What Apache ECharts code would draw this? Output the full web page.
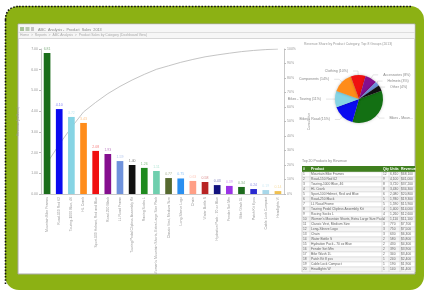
<!DOCTYPE html>
<html>
<head>
<meta charset="utf-8">
<script src="https://cdn.jsdelivr.net/npm/echarts@6.0.0/dist/echarts.min.js"></script>
<style>
html, body { margin: 0; padding: 0; background: #fff; }
#chart { width: 425px; height: 292px; }
</style>
</head>
<body>
<div id="chart"></div>
<script>
// bar / pareto data
var categories = [
    'Mountain Bike Frames', 'Road-150 Red 62', 'Touring-1000 Blue, 46', 'HL Crank',
    'Sport-100 Helmet, Red and Blue', 'Road-250 Black', 'LL Road Frame',
    'Touring Pedal Clipless Assembly Kit', 'Racing Socks L',
    "Women's Mountain Shorts, Extra Large Size Pack", 'Classic Vest, Medium Size',
    'Long-Sleeve Logo', 'Chain', 'Water Bottle S', 'Hydration Pack - 70 oz Blue',
    'Fender Set Mtn', 'Bike Wash 1L', 'Patch Kit 8 pcs', 'Cable Lock Compact', 'Headlights W'
]
var barValues = [6.81, 4.10, 3.72, 3.43, 2.08, 1.93, 1.59, 1.40, 1.26, 1.11,
    0.77, 0.75, 0.63, 0.58, 0.43, 0.39, 0.34, 0.24, 0.19, 0.14]
var barColors = ['#1b6e1b', '#0a0af0', '#86d4e4', '#ff8c1a', '#f01010', '#850f8f', '#6f92dc',
    '#111111', '#1e8a1e', '#6fcfae', '#56692f', '#2a8ff0', '#ff9f86', '#b82424',
    '#12127e', '#9a34e6', '#1d6b1d', '#2a2ad0', '#a8d8ea', '#f0c050']
var paretoPct = [21.4, 34.2, 45.9, 56.6, 63.2, 69.2, 74.2, 78.6, 82.5, 86.0,
    88.4, 90.8, 92.8, 94.6, 95.9, 97.1, 98.2, 99.0, 99.6, 100]
var leftTickLabels = ['0.00', '1.00', '2.00', '3.00', '4.00', '5.00', '6.00', '7.00']
var rightTickLabels = ['0%', '10%', '20%', '30%', '40%', '50%', '60%', '70%', '80%', '90%', '100%']

// pie data
var pieNames = ['Bikes - Mountain', 'Bikes - Road', 'Bikes - Touring', 'Components',
    'Clothing', 'Accessories', 'Helmets', 'Other']
var pieValues = [35, 15, 11, 14, 10, 8, 3, 4]
var pieColors = ['#137013', '#0a0af0', '#86d4e4', '#ff8c1a', '#f01010', '#850f8f', '#6f92dc', '#111111']

// table data
var tableHeader = ['#', 'Product', 'Qty', 'Units', 'Revenue']
var tableQty = [12, 9, 8, 8, 6, 5, 5, 4, 4, 4, 3, 3, 3, 2, 2, 2, 2, 1, 1, 1]
var tableUnits = ['6,810', '4,100', '3,720', '3,430', '2,080', '1,930', '1,590', '1,400', '1,260', '1,110',
    '770', '750', '630', '580', '430', '390', '340', '240', '190', '140']
var tableRevenue = ['$68,100', '$41,000', '$37,200', '$34,300', '$20,800', '$19,300', '$15,900',
    '$14,000', '$12,600', '$11,100', '$7,700', '$7,500', '$6,300', '$5,800', '$4,300',
    '$3,900', '$3,400', '$2,400', '$1,900', '$1,400']

var font = 'Liberation Sans'
var chart = echarts.init(document.getElementById('chart'))

function buildTable() {
    var els = []
    var x0 = 302, x1 = 415, top = 166, headH = 6, rowH = 5
    var cols = [302, 310, 382, 389, 400, 415]
    els.push({ type: 'text', left: x0, top: 159, style: { text: 'Top 20 Products by Revenue', fill: '#888', font: '3.5px ' + font } })
    els.push({ type: 'rect', shape: { x: x0, y: top, width: x1 - x0, height: headH }, style: { fill: '#3f7f1e' } })
    tableHeader.forEach(function (h, i) {
        els.push({ type: 'text', left: cols[i] + 1, top: top + 1.2, style: { text: h, fill: '#fff', font: 'bold 3.5px ' + font } })
    })
    var y = top + headH
    categories.forEach(function (name, i) {
        var ry = y + i * rowH
        els.push({ type: 'rect', shape: { x: x0, y: ry, width: x1 - x0, height: rowH },
            style: { fill: i % 2 ? '#f4f4f4' : '#fff', stroke: '#d0d0d0', lineWidth: 0.5 } })
        var cells = [String(i + 1), name, String(tableQty[i]), tableUnits[i], tableRevenue[i]]
        cells.forEach(function (c, j) {
            els.push({ type: 'text', left: cols[j] + 1, top: ry + 0.9, style: { text: c, fill: '#666', font: '3.3px ' + font } })
        })
    })
    var bottom = y + categories.length * rowH
    cols.forEach(function (cx) {
        els.push({ type: 'line', shape: { x1: cx, y1: top + headH, x2: cx, y2: bottom }, style: { stroke: '#c8c8c8', lineWidth: 0.5 } })
    })
    return els
}

var dotted = { stroke: '#111', lineWidth: 1.6, lineDash: [1.6, 1.6] }
var graphics = [
    // green frame
    { type: 'rect', shape: { x: 5, y: 6, width: 419, height: 284, r: 14 }, style: { fill: '#8cb114' } },
    { type: 'line', shape: { x1: 5.5, y1: 284, x2: 5.5, y2: 20 }, style: dotted },
    { type: 'bezierCurve', shape: { x1: 5.5, y1: 20, cpx1: 5.5, cpy1: 6.5, x2: 19, y2: 6.5 }, style: dotted },
    { type: 'line', shape: { x1: 19, y1: 6.5, x2: 412, y2: 6.5 }, style: dotted },
    // screenshot panel
    { type: 'rect', shape: { x: 18, y: 24, width: 397, height: 250 }, style: { fill: '#fff', stroke: '#a9a9a9', lineWidth: 1 } },
    { type: 'rect', shape: { x: 18.5, y: 24.5, width: 396, height: 14 }, style: { fill: '#f6f6f6' } },
    { type: 'line', shape: { x1: 18, y1: 32.5, x2: 415, y2: 32.5 }, style: { stroke: '#dedede', lineWidth: 1 } },
    { type: 'line', shape: { x1: 18, y1: 38.5, x2: 415, y2: 38.5 }, style: { stroke: '#d6d6d6', lineWidth: 1 } },
    { type: 'rect', shape: { x: 20, y: 27, width: 4, height: 4 }, style: { fill: '#a8c49a' } },
    { type: 'rect', shape: { x: 25.5, y: 27, width: 4, height: 4 }, style: { fill: '#b9c8b2' } },
    { type: 'rect', shape: { x: 31, y: 27, width: 3, height: 4 }, style: { fill: '#c4c4c4' } },
    { type: 'text', left: 38, top: 27.5, style: { text: 'ABC  Analysis -  Product  Sales  2013', fill: '#888', font: '3.8px ' + font } },
    { type: 'text', left: 20, top: 34, style: { text: 'Home  >  Reports  >  ABC Analysis  >  Product Sales by Category (Dashboard View)', fill: '#aaa', font: '3.4px ' + font } },
    { type: 'text', left: 304, top: 42.5, style: { text: 'Revenue Share by Product Category, Top 8 Groups (2013)', fill: '#999', font: '3.4px ' + font } }
].concat(buildTable())

var option = {
    animation: false,
    textStyle: { fontFamily: font },
    graphic: graphics,
    grid: { left: 41, right: 141, top: 49, bottom: 98 },
    xAxis: {
        type: 'category',
        data: categories,
        axisLine: { lineStyle: { color: '#bbb', width: 0.8 } },
        axisTick: { show: false },
        axisLabel: { rotate: 90, interval: 0, fontSize: 3.5, color: '#999', margin: 3 }
    },
    yAxis: [
        {
            type: 'value', min: 0, max: 7, interval: 1,
            name: 'Revenue (millions)', nameLocation: 'middle', nameGap: 17,
            nameTextStyle: { fontSize: 3.5, color: '#999' },
            axisLine: { show: true, lineStyle: { color: '#bbb', width: 0.8 } },
            axisTick: { show: true, length: 2, lineStyle: { color: '#bbb' } },
            splitLine: { show: false },
            axisLabel: { fontSize: 3.5, color: '#999', margin: 3, formatter: function (v) { return leftTickLabels[Math.round(v)] } }
        },
        {
            type: 'value', min: 0, max: 100, interval: 10, position: 'right',
            name: 'Cumulative', nameLocation: 'middle', nameGap: 11,
            nameTextStyle: { fontSize: 3.5, color: '#999' },
            axisLine: { show: true, lineStyle: { color: '#bbb', width: 0.8 } },
            axisTick: { show: true, length: 2, lineStyle: { color: '#bbb' } },
            splitLine: { show: false },
            axisLabel: { fontSize: 3.5, color: '#999', margin: 3, formatter: function (v) { return rightTickLabels[Math.round(v / 10)] } }
        }
    ],
    series: [
        {
            type: 'line',
            yAxisIndex: 1,
            z: 1,
            data: paretoPct,
            showSymbol: false,
            lineStyle: { color: '#b5b5b5', width: 0.8 }
        },
        {
            type: 'bar',
            z: 3,
            barWidth: '55%',
            data: barValues.map(function (v, i) {
                return { value: v, itemStyle: { color: barColors[i] }, label: { color: barColors[i] } }
            }),
            label: { show: true, position: 'top', distance: 2, fontSize: 3.5, opacity: 0.55,
                formatter: function (p) { return p.value.toFixed(2) } }
        },
        {
            type: 'pie',
            center: [359, 99],
            radius: 24,
            startAngle: 20,
            data: pieNames.map(function (n, i) {
                return { name: n, value: pieValues[i], itemStyle: { color: pieColors[i] } }
            }),
            label: { fontSize: 3.5, color: '#888', formatter: '{b} ({d}%)' },
            labelLine: { length: 4, length2: 5, lineStyle: { width: 0.4, color: '#bbb' } },
            itemStyle: { borderWidth: 0, shadowBlur: 3, shadowColor: 'rgba(0,0,0,0.25)' }
        }
    ]
}
chart.setOption(option)
</script>
</body>
</html>
